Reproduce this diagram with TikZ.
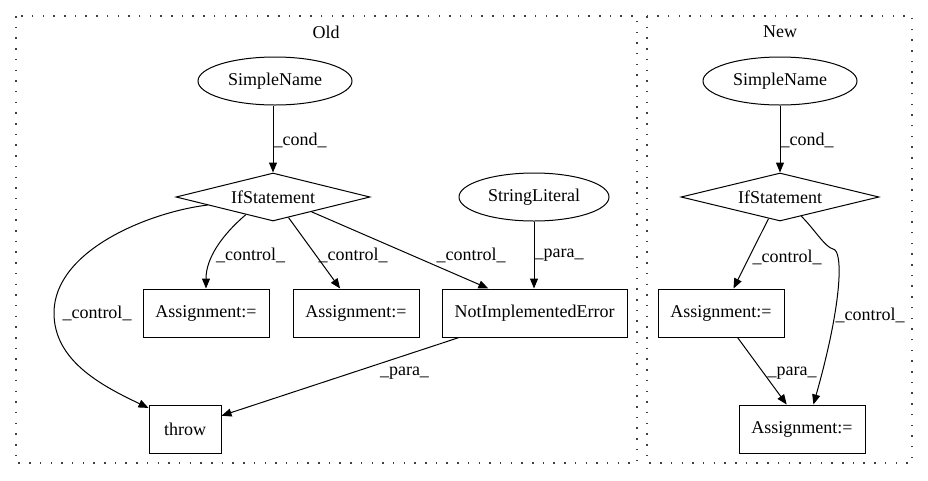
\documentclass[tikz,border=0pt]{standalone}
\usepackage{fontspec}
\setmainfont{Liberation Serif}
\usetikzlibrary{shapes.geometric,arrows.meta,calc}
\begin{document}
\begin{tikzpicture}[x=1pt,y=-1pt,
  every node/.style={font=\fontsize{18}{21}\selectfont, inner sep=0pt},
  ell/.style={draw, ellipse, line width=1pt, minimum height=48pt},
  dia/.style={draw, diamond, line width=1pt, aspect=4, minimum height=48pt},
  box/.style={draw, rectangle, line width=1pt, minimum height=48pt},
  edge/.style={line width=1pt, -{Triangle[length=10pt,width=8pt]}},
  cluster/.style={draw=black!75, line width=1.2pt, dash pattern=on 1.5pt off 9.2pt}]
\useasboundingbox (0,0) rectangle (928,480);
% clusters
\draw[cluster] (16,16) rectangle (637,463);
\draw[cluster] (647,16) rectangle (912,463);
\node (tOld) at (326,32) {Old};
\node (tNew) at (780,32) {New};
% Old nodes
\node[ell, minimum width=154pt] (sn1) at (275,81) {SimpleName};
\node[dia, minimum width=194pt] (if1) at (273,197) {IfStatement};
\node[ell, minimum width=150pt] (sl) at (534,197) {StringLiteral};
\node[box, minimum width=126pt] (a1) at (206,313) {Assignment:=};
\node[box, minimum width=126pt] (a2) at (356,313) {Assignment:=};
\node[box, minimum width=185pt] (nie) at (534.5,313) {NotImplementedError};
\node[box, minimum width=72pt] (thr) at (185,429) {throw};
% New nodes
\node[ell, minimum width=154pt] (sn2) at (780,81) {SimpleName};
\node[dia, minimum width=198pt] (if2) at (780,197) {IfStatement};
\node[box, minimum width=126pt] (a3) at (721,313) {Assignment:=};
\node[box, minimum width=126pt] (a4) at (802,429) {Assignment:=};
% Old edges
\draw[edge] (sn1.south -| if1.north) -- (if1.north);
\node (l1) at (300,140) {\_cond\_};
\draw[edge] (if1.187.6) .. controls (150,212) and (54,250) .. (54,313)
  .. controls (54,360) and (100,385) .. (thr.150);
\node (l2) at (97,313) {\_control\_};
\draw[edge] (if1.213) .. controls (222,235) and (206,258) .. (a1.north);
\node (l3) at (250.5,255) {\_control\_};
\draw[edge] (if1.-53) -- (a2.123.7);
\node (l4) at (353,255) {\_control\_};
\draw[edge] (if1.-21.8) -- (nie.152.7);
\node (l5) at (471,255) {\_control\_};
\draw[edge] (sl.south) -- (sl.south |- nie.north);
\node (l6) at (559,255) {\_para\_};
\draw[edge] (nie.198.6) -- (thr.20.7);
\node (l7) at (404.5,373) {\_para\_};
% New edges
\draw[edge] (sn2.south) -- (if2.north);
\node (l8) at (807,140) {\_cond\_};
\draw[edge] (if2.242.4) -- (a3.63.4);
\node (l9) at (787,257) {\_control\_};
\draw[edge] (if2.-42.4) .. controls (815,230) and (825,247) .. (833,249)
  .. controls (843,250) and (843,300) .. (a4.65.4);
\node (l10) at (870,315) {\_control\_};
\draw[edge] (a3.-56.3) -- (a4.122);
\node (l11) at (792,373) {\_para\_};
\end{tikzpicture}
\end{document}
